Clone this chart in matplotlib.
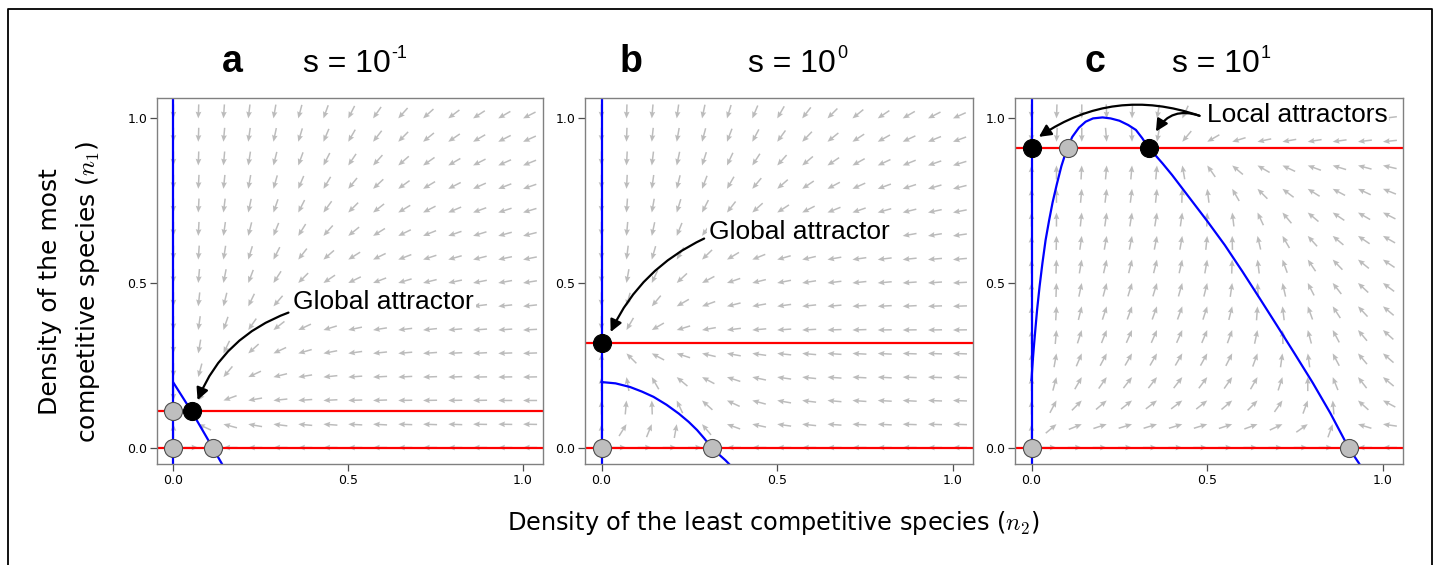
import numpy as np
import matplotlib
matplotlib.use("Agg")
import matplotlib.pyplot as plt
from matplotlib.lines import Line2D

plt.rcParams['mathtext.fontset'] = 'cm'
plt.rcParams['font.family'] = ['DejaVu Sans']

# ---------------- data ----------------
panel_letters = ["a", "b", "c"]
panel_s = ["-1", "0", "1"]

# grid of the direction field (n2 along x, n1 along y)
grid = [0.0, 0.071, 0.143, 0.214, 0.286, 0.357, 0.429, 0.5,
        0.571, 0.643, 0.714, 0.786, 0.857, 0.929, 1.0]

# carrying capacity of species 1 (red nullcline) for each panel
K1 = [0.11, 0.317, 0.91]

# blue nullcline curves (n2, n1)
curve_a_n2 = [0.0, 0.053, 0.112, 0.139, 0.16]
curve_a_n1 = [0.197, 0.108, 0.0, -0.05, -0.09]
curve_b_n2 = [0.0, 0.04, 0.081, 0.115, 0.148, 0.185, 0.22, 0.248, 0.272,
              0.293, 0.313, 0.333, 0.353, 0.39]
curve_b_n1 = [0.199, 0.195, 0.184, 0.17, 0.154, 0.13, 0.103, 0.078, 0.053,
              0.027, 0.0, -0.02, -0.039, -0.08]
curve_c_n2 = [0.0, 0.002, 0.004, 0.007, 0.011, 0.016, 0.023, 0.031, 0.04, 0.05,
              0.06, 0.072, 0.085, 0.1, 0.116, 0.135, 0.154, 0.175, 0.202, 0.225,
              0.25, 0.275, 0.297, 0.315, 0.333, 0.355, 0.373, 0.4, 0.44, 0.5,
              0.55, 0.6, 0.65, 0.7, 0.75, 0.8, 0.85, 0.902, 0.93, 0.96]
curve_c_n1 = [0.205, 0.24, 0.27, 0.31, 0.36, 0.42, 0.49, 0.56, 0.63, 0.69,
              0.745, 0.8, 0.855, 0.905, 0.944, 0.972, 0.99, 1.0, 1.003, 1.0,
              0.993, 0.98, 0.965, 0.94, 0.911, 0.885, 0.863, 0.828, 0.772, 0.688,
              0.615, 0.535, 0.452, 0.368, 0.283, 0.197, 0.105, 0.0, -0.045, -0.095]

# equilibria
unstable_a = ([0.0, 0.112, 0.0], [0.0, 0.0, 0.11])
stable_a = ([0.053], [0.11])
unstable_b = ([0.0, 0.313], [0.0, 0.0])
stable_b = ([0.0], [0.317])
unstable_c = ([0.0, 0.902, 0.105], [0.0, 0.0, 0.91])
stable_c = ([0.0, 0.333], [0.91, 0.91])

nan = float('nan')
# arrow directions (degrees); rows from n1 = 1.0 (top) down to n1 = 0
angles_a = [
    [-90, -92, -94, -97, -100, -105, -110, -117, -125, -132, -138, -143, -147, -150, -153],
    [-90, -92, -95, -98, -102, -107, -113, -120, -128, -135, -141, -146, -150, -153, -156],
    [-90, -92, -95, -99, -104, -110, -117, -124, -132, -139, -145, -150, -153, -156, -158],
    [-90, -93, -96, -100, -106, -113, -121, -129, -137, -144, -149, -153, -156, -159, -161],
    [-90, -93, -97, -102, -109, -117, -126, -135, -142, -149, -153, -157, -160, -162, -163],
    [-90, -93, -98, -104, -112, -122, -132, -141, -148, -154, -158, -161, -163, -165, -166],
    [-90, -94, -99, -107, -117, -128, -139, -148, -154, -159, -162, -164, -166, -168, -169],
    [-90, -95, -101, -111, -123, -135, -146, -154, -159, -163, -166, -168, -169, -170, -171],
    [-90, -96, -104, -116, -131, -145, -155, -162, -166, -169, -171, -172, -173, -174, -174],
    [-90, -98, -109, -125, -142, -155, -163, -168, -171, -173, -174, -175, -176, -176, -177],
    [-90, -100, -116, -138, -155, -164, -169, -172, -174, -175, -176, -177, -177, -178, -178],
    [-90, -105, -130, -155, -166, -171, -174, -176, -177, -177, -178, -178, -179, -179, -179],
    [-90, -125, -160, -170, -174, -176, -177, -178, -178, -179, -179, -179, -179, -180, -180],
    [90, 155, 165, 170, 173, 175, 176, 177, 177, 178, 178, 178, 179, 179, 179],
    [nan, 0, 180, 180, 180, 180, 180, 180, 180, 180, 180, 180, 180, 180, 180],
]
angles_b = [
    [-90, -92, -95, -98, -102, -107, -113, -120, -128, -135, -141, -146, -150, -153, -156],
    [-90, -92, -96, -100, -105, -111, -118, -126, -134, -141, -147, -151, -155, -158, -160],
    [-90, -93, -97, -102, -108, -115, -123, -132, -140, -146, -151, -155, -158, -161, -163],
    [-90, -93, -98, -104, -111, -120, -130, -139, -146, -152, -156, -160, -162, -164, -166],
    [-90, -94, -100, -107, -117, -128, -138, -147, -153, -158, -161, -164, -166, -168, -169],
    [-90, -95, -102, -112, -125, -138, -148, -155, -160, -164, -166, -168, -170, -171, -172],
    [-90, -97, -106, -120, -136, -149, -158, -164, -167, -170, -172, -173, -174, -175, -175],
    [-90, -100, -115, -137, -152, -161, -166, -169, -171, -173, -174, -175, -176, -176, -177],
    [-90, -105, -130, -150, -160, -166, -170, -172, -174, -175, -176, -177, -177, -178, -178],
    [-90, -120, -150, -163, -170, -173, -175, -176, -177, -178, -178, -179, -179, -179, -179],
    [90, 135, 152, 162, 167, 170, 172, 174, 175, 176, 177, 177, 178, 178, 178],
    [90, 100, 120, 140, 152, 162, 168, 172, 174, 176, 177, 177, 178, 178, 178],
    [90, 85, 92, 115, 138, 155, 165, 170, 173, 175, 176, 177, 177, 178, 178],
    [90, 58, 68, 80, 130, 160, 168, 172, 174, 176, 177, 177, 178, 178, 178],
    [nan, 0, 0, 0, 0, 180, 180, 180, 180, 180, 180, 180, 180, 180, 180],
]
angles_c = [
    [-90, -92, -90, -88, -92, -100, -115, -135, -150, -160, -165, -168, -170, -172, -173],
    [-90, -93, -90, -85, -88, -100, -130, -150, -163, -168, -170, -171, -172, -173, -174],
    [90, 90, 87, 85, 85, 85, 100, 125, 140, 150, 155, 160, 163, 165, 167],
    [90, 90, 85, 83, 83, 84, 88, 97, 120, 135, 143, 148, 152, 155, 158],
    [90, 90, 84, 82, 81, 81, 82, 88, 97, 115, 130, 140, 146, 150, 153],
    [90, 89, 82, 80, 79, 79, 80, 84, 91, 103, 120, 132, 140, 146, 150],
    [90, 88, 80, 77, 76, 76, 77, 80, 88, 97, 110, 124, 134, 141, 146],
    [90, 88, 78, 75, 73, 73, 74, 76, 82, 93, 103, 117, 128, 137, 143],
    [90, 87, 76, 72, 70, 70, 70, 72, 76, 86, 97, 110, 123, 133, 140],
    [90, 85, 72, 68, 66, 66, 66, 67, 70, 78, 92, 105, 118, 130, 138],
    [90, 80, 67, 62, 60, 60, 60, 61, 63, 70, 82, 98, 118, 130, 139],
    [90, 75, 60, 55, 52, 52, 52, 53, 55, 60, 72, 90, 112, 128, 140],
    [90, 62, 45, 40, 38, 37, 37, 38, 40, 45, 55, 70, 95, 138, 152],
    [90, 40, 22, 18, 17, 17, 17, 17, 18, 20, 25, 35, 70, 163, 172],
    [nan, 0, 0, 0, 0, 0, 0, 0, 0, 0, 0, 0, 0, 180, 180],
]

# annotations: (label, text position, [(arrow start, arrow tip, rad)])
annot_a = ("Global attractor", (0.343, 0.442), [((0.329, 0.41), (0.069, 0.144), 0.22)])
annot_b = ("Global attractor", (0.307, 0.654), [((0.292, 0.635), (0.026, 0.351), 0.18)])
annot_c = ("Local attractors", (0.498, 1.01), [((0.478, 1.008), (0.021, 0.944), 0.25),
                                               ((0.478, 1.008), (0.354, 0.96), 0.4)])

# ---------------- figure ----------------
W, H = 1440, 565
fig = plt.figure(figsize=(W / 100, H / 100), dpi=100)
renderer = fig.canvas.get_renderer()

def fx(px):
    return px / W

def fy(py):
    return 1 - py / H

axes_px = [(157, 543), (585, 973), (1015, 1403)]
top_px, bot_px = 98, 464

curves = [(curve_a_n2, curve_a_n1), (curve_b_n2, curve_b_n1), (curve_c_n2, curve_c_n1)]
unstables = [unstable_a, unstable_b, unstable_c]
stables = [stable_a, stable_b, stable_c]
angle_sets = [angles_a, angles_b, angles_c]
annots = [annot_a, annot_b, annot_c]

letter_x = [232, 631, 1095]
s_x = [303, 748, 1172]

X, Y = np.meshgrid(grid, grid)

for k in range(3):
    l, r = axes_px[k]
    ax = fig.add_axes([fx(l), fy(bot_px), (r - l) / W, (bot_px - top_px) / H])
    ax.set_xlim(-0.047, 1.057)
    ax.set_ylim(-0.05, 1.062)

    A = np.radians(np.array(angle_sets[k], dtype=float)[::-1])
    U = np.ma.masked_invalid(np.cos(A))
    V = np.ma.masked_invalid(np.sin(A))
    ax.quiver(X, Y, U, V, angles='uv', pivot='tip', color='#bcbcbc',
              units='inches', scale_units='inches', scale=1 / 0.14,
              width=0.015, headwidth=3.8, headlength=4.5, headaxislength=4,
              zorder=1)

    ax.axhline(0, color='#ff0000', lw=1.6, zorder=2)
    ax.axhline(K1[k], color='#ff0000', lw=1.6, zorder=2)
    ax.axvline(0, color='#0000ff', lw=1.6, zorder=2)
    cx, cy = curves[k]
    ax.plot(cx, cy, color='#0000ff', lw=1.6, zorder=2)

    ux, uy = unstables[k]
    ax.plot(ux, uy, 'o', ms=13, mfc='#bebebe', mec='#4d4d4d', mew=0.8, zorder=5)
    sx, sy = stables[k]
    ax.plot(sx, sy, 'o', ms=13, mfc='black', mec='black', mew=0.8, zorder=5)

    label, tpos, arrows = annots[k]
    ax.text(tpos[0], tpos[1], label, ha='left', va='center', fontsize=19,
            family='Liberation Sans', zorder=7,
            bbox=dict(facecolor='white', edgecolor='none', pad=1.5))
    for start, tip, rad in arrows:
        ax.annotate('', xy=tip, xytext=start, zorder=6,
                    arrowprops=dict(arrowstyle='-|>', color='black', lw=1.6,
                                    mutation_scale=18, shrinkA=0, shrinkB=0,
                                    connectionstyle='arc3,rad=%g' % rad))

    ax.set_xticks([0.0, 0.5, 1.0])
    ax.set_yticks([0.0, 0.5, 1.0])
    ax.set_xticklabels(['0.0', '0.5', '1.0'])
    ax.set_yticklabels(['0.0', '0.5', '1.0'])
    ax.tick_params(length=5, width=0.9, color='#4d4d4d', labelsize=9, pad=2)
    for sp in ax.spines.values():
        sp.set_color('#808080')
        sp.set_linewidth(1.0)

    fig.text(fx(letter_x[k]), fy(72), panel_letters[k], ha='center', va='baseline',
             fontsize=27, fontweight='bold', family='Liberation Sans')
    t = fig.text(fx(s_x[k]), fy(72), 's = 10', ha='left', va='baseline',
                 fontsize=23, family='Liberation Sans')
    ext = t.get_window_extent(renderer)
    fig.text(fx(ext.x1 + 1), fy(58), panel_s[k], ha='left', va='baseline',
             fontsize=13, family='Liberation Sans')

fig.text(fx(773), fy(523), r'Density of the least competitive species ($n_2$)',
         ha='center', va='center', fontsize=17.3)
fig.text(fx(70), fy(292), 'Density of the most\ncompetitive species ($n_1$)',
         ha='center', va='center', rotation=90, fontsize=18, linespacing=1.55)

# frame around the figure (left, top, right)
fig.add_artist(Line2D([fx(7.5), fx(7.5), fx(1432), fx(1432)],
                      [0, fy(9), fy(9), 0], color='black', lw=1.3))

fig.savefig('out.png', dpi=100)
